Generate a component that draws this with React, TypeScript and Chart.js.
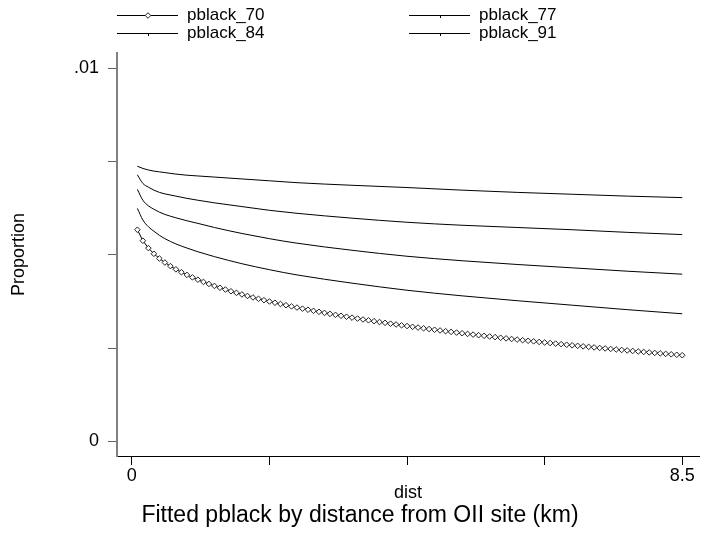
import { useEffect, useRef } from "react";
import { Chart, registerables } from "chart.js";

Chart.register(...registerables);

const FONT = "'Liberation Sans', Arial, Helvetica, sans-serif";

// Distance grid (km) at which pblack_70 is evaluated and marked
const dist = [
  0.085, 0.17, 0.255, 0.34, 0.425, 0.51, 0.595, 0.68, 0.765, 0.85,
  0.935, 1.02, 1.105, 1.19, 1.275, 1.36, 1.445, 1.53, 1.615, 1.7,
  1.785, 1.87, 1.955, 2.04, 2.125, 2.21, 2.295, 2.38, 2.465, 2.55,
  2.635, 2.72, 2.805, 2.89, 2.975, 3.06, 3.145, 3.23, 3.315, 3.4,
  3.485, 3.57, 3.655, 3.74, 3.825, 3.91, 3.995, 4.08, 4.165, 4.25,
  4.335, 4.42, 4.505, 4.59, 4.675, 4.76, 4.845, 4.93, 5.015, 5.1,
  5.185, 5.27, 5.355, 5.44, 5.525, 5.61, 5.695, 5.78, 5.865, 5.95,
  6.035, 6.12, 6.205, 6.29, 6.375, 6.46, 6.545, 6.63, 6.715, 6.8,
  6.885, 6.97, 7.055, 7.14, 7.225, 7.31, 7.395, 7.48, 7.565, 7.65,
  7.735, 7.82, 7.905, 7.99, 8.075, 8.16, 8.245, 8.33, 8.415, 8.5,
];

const pblack70 = [
  0.00567, 0.005376, 0.005179, 0.005026, 0.0049, 0.004792, 0.004696, 0.00461, 0.004532, 0.004461,
  0.004394, 0.004332, 0.004273, 0.004218, 0.004166, 0.004116, 0.004069, 0.004023, 0.00398, 0.003938,
  0.003897, 0.003858, 0.003821, 0.003784, 0.003749, 0.003715, 0.003682, 0.003649, 0.003618, 0.003587,
  0.003557, 0.003528, 0.003499, 0.003472, 0.003444, 0.003417, 0.003391, 0.003366, 0.003341, 0.003316,
  0.003292, 0.003268, 0.003245, 0.003222, 0.003199, 0.003177, 0.003155, 0.003134, 0.003112, 0.003092,
  0.003071, 0.003051, 0.003031, 0.003011, 0.002992, 0.002973, 0.002954, 0.002935, 0.002917, 0.002899,
  0.002881, 0.002863, 0.002846, 0.002829, 0.002812, 0.002795, 0.002778, 0.002762, 0.002745, 0.002729,
  0.002713, 0.002697, 0.002682, 0.002666, 0.002651, 0.002636, 0.002621, 0.002606, 0.002591, 0.002576,
  0.002562, 0.002548, 0.002533, 0.002519, 0.002505, 0.002492, 0.002478, 0.002464, 0.002451, 0.002438,
  0.002424, 0.002411, 0.002398, 0.002385, 0.002372, 0.00236, 0.002347, 0.002335, 0.002322, 0.00231,
];

// Distances used for the unmarked fitted curves
const distFit = [
  0.085, 0.17, 0.255, 0.34, 0.425, 0.51, 0.68, 0.85, 1.02, 1.275,
  1.7, 2.125, 2.55, 3.4, 4.25, 5.1, 5.95, 6.8, 7.65, 8.5,
];

const pblack77 = [
  0.00624, 0.00593, 0.00575, 0.00563, 0.00552, 0.00543, 0.00529, 0.00518, 0.00508, 0.00495,
  0.00476, 0.0046, 0.00446, 0.00424, 0.00405, 0.0039, 0.00377, 0.00365, 0.00353, 0.00342,
];

const pblack84 = [
  0.00675, 0.00646, 0.00631, 0.00622, 0.00614, 0.00608, 0.00599, 0.00591, 0.00584, 0.00573,
  0.00557, 0.00543, 0.00531, 0.00512, 0.00496, 0.00484, 0.00474, 0.00465, 0.00456, 0.00448,
];

const pblack91 = [
  0.00714, 0.00691, 0.00681, 0.00673, 0.00667, 0.00663, 0.00657, 0.00651, 0.00646, 0.00639,
  0.00629, 0.00619, 0.00611, 0.00598, 0.00587, 0.00579, 0.00573, 0.00567, 0.0056, 0.00554,
];

const pblack98 = [
  0.00737, 0.00731, 0.00727, 0.00724, 0.00722, 0.0072, 0.00716, 0.00713, 0.00711, 0.00708,
  0.00703, 0.00698, 0.00693, 0.00686, 0.0068, 0.00673, 0.00667, 0.00662, 0.00657, 0.00653,
];

const xTickValues = [0, 2.125, 4.25, 6.375, 8.5];
const xTickLabels = ["0", "", "", "", "8.5"];
const yTickValues = [0, 0.0025, 0.005, 0.0075, 0.01];
const yTickLabels = ["0", "", "", "", ".01"];

const legendLabels = ["pblack_70", "pblack_77", "pblack_84", "pblack_91"];
const chartTitle = "Fitted pblack by distance from OII site (km)";
const xTitle = "dist";
const yTitle = "Proportion";

const toPoints = (xs: number[], ys: number[]) => xs.map((x, i) => ({ x, y: ys[i] }));

function drawDiamond(ctx: CanvasRenderingContext2D, x: number, y: number, r: number) {
  ctx.beginPath();
  ctx.moveTo(x, y - r);
  ctx.lineTo(x + r, y);
  ctx.lineTo(x, y + r);
  ctx.lineTo(x - r, y);
  ctx.closePath();
  ctx.fillStyle = "#fff";
  ctx.fill();
  ctx.strokeStyle = "#222";
  ctx.lineWidth = 1;
  ctx.stroke();
}

// Two-column key at the top and the caption under the x axis
const keyAndCaption = {
  id: "keyAndCaption",
  afterDraw(chart: Chart) {
    const ctx = chart.ctx;
    ctx.save();
    const cols = [117, 409];
    const rows = [15, 33];
    legendLabels.forEach((label, i) => {
      const x0 = cols[i % 2];
      const y = rows[Math.floor(i / 2)];
      ctx.strokeStyle = "#000";
      ctx.lineWidth = 1;
      ctx.beginPath();
      ctx.moveTo(x0, y + 0.5);
      ctx.lineTo(x0 + 61, y + 0.5);
      ctx.stroke();
      const mx = x0 + 31;
      if (i === 0) {
        drawDiamond(ctx, mx, y + 0.5, 2.8);
      } else {
        ctx.fillStyle = "#000";
        ctx.fillRect(mx, y + 1, 1, 2);
      }
      ctx.fillStyle = "#000";
      ctx.font = `17px ${FONT}`;
      ctx.textAlign = "left";
      ctx.textBaseline = "middle";
      ctx.fillText(label, x0 + 70, y);
    });
    ctx.font = `23px ${FONT}`;
    ctx.textAlign = "center";
    ctx.textBaseline = "middle";
    ctx.fillStyle = "#000";
    ctx.fillText(chartTitle, 360, 516);
    ctx.restore();
  },
};

export default function App() {
  const canvasRef = useRef<HTMLCanvasElement | null>(null);

  useEffect(() => {
    const canvas = canvasRef.current;
    if (!canvas) return;

    const curve = (label: string, ys: number[]) => ({
      label,
      data: toPoints(distFit, ys),
      borderColor: "#000",
      borderWidth: 1,
      pointRadius: 0,
      cubicInterpolationMode: "monotone" as const,
      fill: false,
    });

    const chart = new Chart(canvas, {
      type: "line",
      data: {
        datasets: [
          {
            label: "pblack_70",
            data: toPoints(dist, pblack70),
            borderColor: "#000",
            borderWidth: 1,
            pointStyle: "rectRot",
            pointRadius: 2.8,
            pointBorderWidth: 1,
            pointBorderColor: "#222",
            pointBackgroundColor: "#fff",
            fill: false,
          },
          curve("pblack_77", pblack77),
          curve("pblack_84", pblack84),
          curve("pblack_91", pblack91),
          curve("pblack_98", pblack98),
        ],
      },
      options: {
        animation: false,
        responsive: false,
        devicePixelRatio: 1,
        events: [],
        layout: { padding: { top: 53, left: 0, right: 0, bottom: 0 } },
        plugins: {
          legend: { display: false },
          tooltip: { enabled: false },
          title: { display: false },
        },
        scales: {
          x: {
            type: "linear",
            min: -0.2297,
            max: 8.759,
            afterBuildTicks: (s: any) => {
              s.ticks = xTickValues.map((value) => ({ value }));
            },
            afterFit: (s: any) => {
              s.height = 83;
            },
            ticks: {
              autoSkip: false,
              maxRotation: 0,
              padding: 0,
              color: "#000",
              font: { size: 18, family: FONT },
              callback: (_v: any, i: number) => xTickLabels[i],
            },
            grid: { drawOnChartArea: false, drawTicks: true, tickLength: 9, color: "#000", lineWidth: 1 },
            border: { display: true, color: "#000", width: 1 },
            title: {
              display: true,
              text: xTitle,
              color: "#000",
              font: { size: 18, family: FONT },
              padding: { top: 0, bottom: 35 },
            },
          },
          y: {
            type: "linear",
            min: -0.000388,
            max: 0.010402,
            afterBuildTicks: (s: any) => {
              s.ticks = yTickValues.map((value) => ({ value }));
            },
            afterFit: (s: any) => {
              s.width = 117;
            },
            ticks: {
              autoSkip: false,
              padding: 9,
              color: "#000",
              font: { size: 18, family: FONT },
              callback: (_v: any, i: number) => yTickLabels[i],
            },
            grid: { drawOnChartArea: false, drawTicks: true, tickLength: 9, color: "#666", lineWidth: 1 },
            border: { display: true, color: "#808080", width: 2 },
            title: {
              display: true,
              text: yTitle,
              color: "#000",
              font: { size: 18, family: FONT },
              padding: { top: 8, bottom: 0 },
            },
          },
        },
      },
      plugins: [keyAndCaption],
    });

    return () => chart.destroy();
  }, []);

  return (
    <div style={{ position: "fixed", left: 0, top: 0, width: 704, height: 539, background: "#fff" }}>
      <canvas ref={canvasRef} width={704} height={539} style={{ display: "block" }} />
    </div>
  );
}
